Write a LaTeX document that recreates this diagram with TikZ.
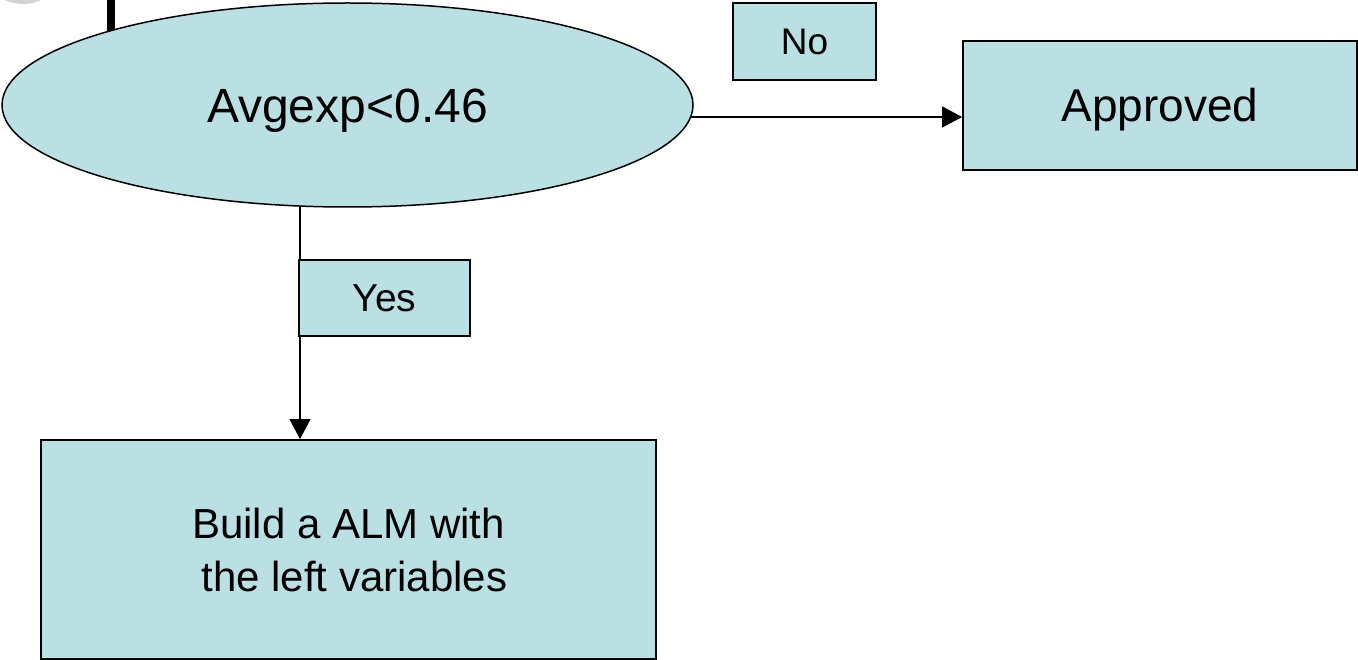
\documentclass[tikz,border=0pt]{standalone}
\usepackage{fontspec}
\setmainfont{Liberation Sans}
\usetikzlibrary{shapes.geometric,arrows.meta,calc}
\definecolor{boxfill}{RGB}{187,224,227}
\definecolor{circgray}{RGB}{210,210,210}
\tikzset{
  flowbox/.style={draw=black, line width=1.8pt, fill=boxfill, rectangle, inner sep=0pt, align=center},
  capcenter/.style={text height=#1, text depth=0pt},
  decision/.style={draw=black, line width=1.5pt, fill=boxfill, ellipse, inner sep=0pt},
  conn/.style={draw=black, line width=1.4pt, -{Triangle[length=20pt,width=21pt]}},
  plainconn/.style={draw=black, line width=1.4pt}
}
\begin{document}
\begin{tikzpicture}[x=1pt,y=1pt]
\useasboundingbox (0,0) rectangle (1358,-660);
% partial grey circle at top-left
\fill[circgray] (23,41) circle (45);
% thick vertical bar
\coordinate (bartop) at (111,0);
\coordinate (barbot) at (111,-45);
\draw[line width=7.5pt] (bartop) -- (barbot);
% nodes
\node[decision, capcenter=34.4pt, font=\fontsize{48}{56}\selectfont, minimum width=691, minimum height=204] (e) at (347.5,-105)
  {Avgexp<0.46};
\node[flowbox, capcenter=26.5pt, font=\fontsize{37}{44}\selectfont, minimum width=143, minimum height=77] (no) at (804.5,-41.5)
  {No};
\node[flowbox, capcenter=32.9pt, font=\fontsize{46}{54}\selectfont, minimum width=394, minimum height=129] (app) at (1160,-105.5)
  {Approved};
\node[flowbox, font=\fontsize{42}{53}\selectfont, minimum width=615, minimum height=219] (alm) at (348.5,-549.5)
  {Build a ALM with\\\hspace*{0.28em}the left variables};
% connectors
\draw[conn] (e.-2.17) -- (e.-2.17 -| app.west);
\coordinate (ybot) at (300,-207);
\draw[conn] (ybot) -- (ybot |- alm.north);
\node[flowbox, capcenter=27.9pt, font=\fontsize{39}{46}\selectfont, minimum width=171, minimum height=76] (yes) at (384.5,-298)
  {Yes};
\end{tikzpicture}
\end{document}
